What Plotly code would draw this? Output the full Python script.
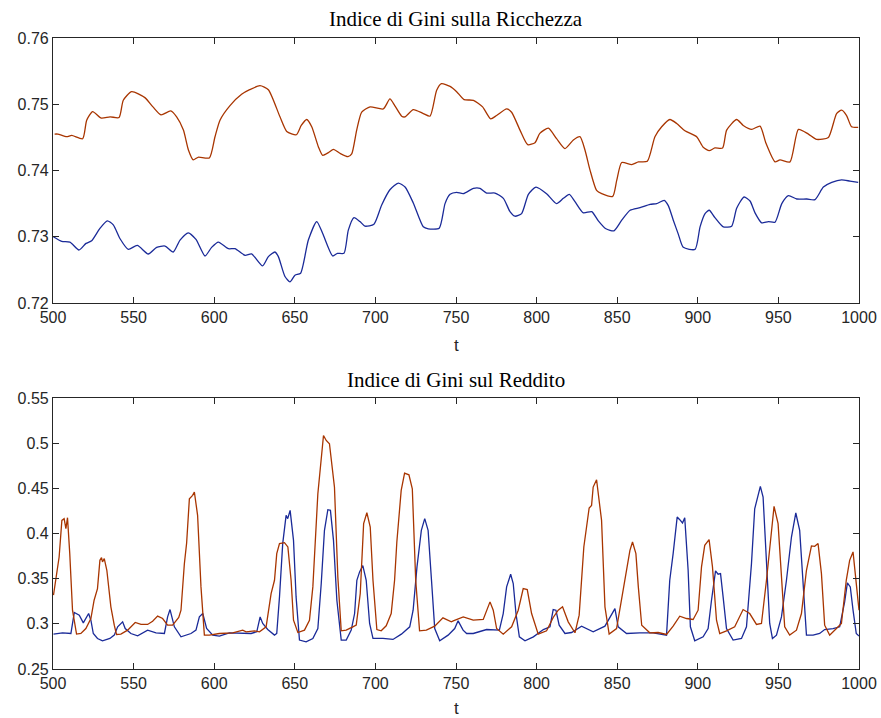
import plotly.graph_objects as go
from plotly.subplots import make_subplots

# ---------------- Wealth Gini (top) ----------------
w_orange_t = [501, 503, 508.5, 511.6, 518.4, 520.9, 524.6, 530, 535.4, 541, 543.6, 548.8, 557, 562, 567, 573,
              576.7, 580.9, 584, 587, 590, 597, 600.5, 603.6, 609.8, 617, 622, 628.4, 633.6, 640.8, 645, 651,
              654, 657.4, 660.5, 664.6, 667.3, 670.8, 674, 678, 683, 685.3, 688.4, 691.5, 696.7, 704.9, 709,
              712, 716.3, 718.4, 723.5, 729.7, 733.9, 738, 741, 746.3, 750.4, 755, 760.8, 766.5, 771.5, 775.2,
              781.4, 784.5, 789.7, 794.5, 799, 802, 807.3, 812.4, 817.6, 822.8, 826.9, 830, 833.1, 837.2,
              840.4, 847.2, 849.7, 852.8, 859, 863.1, 868.7, 873.4, 877.6, 882.7, 886.9, 892, 899.3, 903.4,
              907.1, 910.6, 915.4, 917.9, 924.1, 928.2, 933.4, 938.6, 942.3, 947.9, 951, 957.2, 962.4, 968.6,
              973.7, 981, 986.1, 989.2, 992.3, 995.4, 999.5]
w_orange = [0.7455, 0.7455, 0.7451, 0.7453, 0.7448, 0.7476, 0.7489, 0.7479, 0.7481, 0.7480, 0.7506, 0.7519,
            0.7510, 0.7496, 0.7484, 0.7490, 0.7481, 0.7461, 0.7431, 0.7416, 0.7420, 0.7419, 0.7451, 0.7476,
            0.7498, 0.7515, 0.7522, 0.7528, 0.7522, 0.7481, 0.7459, 0.7454, 0.7468, 0.7477, 0.7466, 0.7436,
            0.7423, 0.7427, 0.7432, 0.7426, 0.7421, 0.7425, 0.7461, 0.7488, 0.7496, 0.7493, 0.7508, 0.7498,
            0.7482, 0.7481, 0.7492, 0.7486, 0.7482, 0.7521, 0.7531, 0.7527, 0.7519, 0.7507, 0.7506, 0.7496,
            0.7478, 0.7483, 0.7493, 0.7488, 0.7461, 0.7439, 0.7442, 0.7456, 0.7464, 0.7448, 0.7433, 0.7446,
            0.7451, 0.7431, 0.7401, 0.7370, 0.7365, 0.7361, 0.7385, 0.7412, 0.7409, 0.7413, 0.7414, 0.7451,
            0.7466, 0.7477, 0.7471, 0.7460, 0.7451, 0.7435, 0.7430, 0.7434, 0.7434, 0.7461, 0.7477, 0.7468,
            0.7462, 0.7467, 0.7441, 0.7413, 0.7416, 0.7413, 0.7462, 0.7455, 0.7447, 0.7450, 0.7486, 0.7491,
            0.7483, 0.7466, 0.7465]

w_blue_t = [500.2, 505.4, 510.5, 516.1, 520.5, 524, 529.2, 533.7, 537.4, 541.6, 546.7, 552.3, 559.1, 564.3,
            569.5, 574.6, 578.8, 583.9, 588.7, 594.3, 598.4, 602.6, 608.8, 612.9, 619.1, 623.2, 630, 633.6,
            637.7, 639.8, 643.9, 647, 650.1, 653.6, 658.4, 663.6, 667.3, 673.5, 676.4, 680.5, 683.2, 686.7,
            690.4, 693.5, 699.1, 703.9, 709, 714.2, 718.4, 723.5, 729.7, 732.8, 739.6, 743.2, 746.3, 750.4,
            754.5, 760.8, 764.9, 769, 774.2, 779.4, 783.5, 786.6, 790.7, 794.9, 799.6, 806.2, 812.4, 816.6,
            820.3, 823.8, 829, 834.2, 838.3, 843, 848, 852.8, 858, 864.2, 870.4, 874.5, 879.2, 881.7, 884.8,
            887.9, 891, 898.3, 901.4, 904.5, 907.1, 910.6, 915.8, 921, 924.1, 928.7, 932.4, 935.5, 939.6,
            943.8, 947.9, 952.1, 956.2, 961.4, 967.6, 972.7, 977.9, 983.1, 989.2, 994.4, 999.5]
w_blue = [0.7300, 0.7293, 0.7292, 0.7280, 0.7290, 0.7294, 0.7313, 0.7324, 0.7318, 0.7297, 0.7281, 0.7287,
          0.7274, 0.7284, 0.7286, 0.7277, 0.7295, 0.7306, 0.7296, 0.7271, 0.7284, 0.7292, 0.7282, 0.7282,
          0.7272, 0.7274, 0.7256, 0.7270, 0.7277, 0.7270, 0.7240, 0.7232, 0.7242, 0.7245, 0.7295, 0.7323,
          0.7305, 0.7271, 0.7275, 0.7275, 0.7310, 0.7329, 0.7323, 0.7316, 0.7319, 0.7348, 0.7371, 0.7381,
          0.7375, 0.7351, 0.7315, 0.7312, 0.7313, 0.7350, 0.7364, 0.7367, 0.7365, 0.7373, 0.7373, 0.7366,
          0.7366, 0.7358, 0.7338, 0.7331, 0.7335, 0.7364, 0.7375, 0.7365, 0.7350, 0.7358, 0.7364, 0.7353,
          0.7336, 0.7338, 0.7324, 0.7312, 0.7309, 0.7325, 0.7340, 0.7344, 0.7349, 0.7350, 0.7355, 0.7347,
          0.7325, 0.7304, 0.7284, 0.7281, 0.7315, 0.7335, 0.7340, 0.7329, 0.7315, 0.7316, 0.7343, 0.7360,
          0.7354, 0.7336, 0.7321, 0.7323, 0.7322, 0.7350, 0.7362, 0.7357, 0.7357, 0.7356, 0.7375, 0.7382,
          0.7386, 0.7384, 0.7382]

# ---------------- Income Gini (bottom) ----------------
i_orange_t = [500.3, 501.8, 503.8, 505.5, 506.9, 508, 509, 510.4, 512.1, 514.6, 517.3, 520.4, 523.5, 525.5,
              527.6, 529.1, 530.1, 530.7, 531.8, 533.4, 535.9, 538, 539.4, 542.1, 546.3, 551, 554.6, 558.7,
              561.8, 564.9, 568, 571.1, 574.2, 578, 579.4, 581.5, 582.9, 584.6, 586.6, 587.7, 589.7, 591.8,
              593.9, 597, 603.2, 611.5, 617.7, 619.8, 625, 628.1, 632.2, 635.3, 637.4, 638.8, 640.5, 643.6,
              645.7, 647.7, 649.2, 651.9, 656, 659.1, 661.2, 664.3, 666.4, 667.8, 669.5, 671.5, 674.6, 676.7,
              678.8, 681.9, 686, 688.1, 690.6, 692.7, 694.7, 696.8, 698.5, 700.9, 703.6, 706.7, 709.8, 711.9,
              713.3, 716, 718.1, 720.8, 722.9, 725, 727.4, 731.6, 736.8, 741.9, 747.1, 748.3, 754.5, 760.7,
              766.9, 769, 771.1, 773.1, 775.2, 779.3, 784.5, 788.6, 791.7, 794.2, 796.9, 801, 806.2, 810.3,
              813.4, 816.1, 819.6, 823.8, 826.4, 829.3, 832.6, 834.1, 835.1, 837.2, 840.3, 842.4, 845, 849.6,
              852.3, 854.8, 857.9, 859.5, 861.6, 863.1, 865.2, 870.2, 875.4, 880.6, 884.7, 888.8, 893, 897.1,
              900.2, 902.3, 904.3, 907, 909.1, 911.6, 913.6, 917.8, 922.9, 928.1, 932.2, 936.4, 939.5, 942.6,
              945.7, 947.3, 949.8, 951.9, 953.9, 957, 961.2, 964.3, 967.4, 970.5, 972.5, 974.6, 976.7, 978.7,
              981.8, 986, 989.1, 992.1, 994.2, 996.3, 998.3, 1000]
i_orange = [0.3317, 0.3519, 0.3740, 0.4145, 0.4164, 0.4053, 0.4175, 0.3777, 0.3151, 0.2886, 0.2893, 0.2948,
            0.3059, 0.3261, 0.3390, 0.3703, 0.3733, 0.3685, 0.3722, 0.3593, 0.3188, 0.2985, 0.2882, 0.2886,
            0.2930, 0.3015, 0.2993, 0.2993, 0.3029, 0.3085, 0.3059, 0.2985, 0.2985, 0.3070, 0.3151, 0.3667,
            0.3895, 0.4385, 0.4422, 0.4459, 0.4201, 0.3409, 0.2875, 0.2875, 0.2893, 0.2900, 0.2930, 0.2912,
            0.2923, 0.2912, 0.2967, 0.3335, 0.3482, 0.3777, 0.3888, 0.3899, 0.3851, 0.3482, 0.3040, 0.2904,
            0.2930, 0.3040, 0.3409, 0.4440, 0.4827, 0.5085, 0.5030, 0.4993, 0.4514, 0.3519, 0.2923, 0.2930,
            0.2967, 0.2985, 0.3335, 0.4109, 0.4230, 0.4072, 0.3482, 0.2937, 0.2923, 0.2978, 0.3114, 0.3482,
            0.3906, 0.4477, 0.4669, 0.4650, 0.4495, 0.3482, 0.2923, 0.2930, 0.2974, 0.3066, 0.3022, 0.3033,
            0.3077, 0.3040, 0.3048, 0.3151, 0.3243, 0.3151, 0.2948, 0.2886, 0.2967, 0.3151, 0.3390, 0.3379,
            0.3114, 0.2886, 0.2923, 0.3070, 0.3151, 0.3188, 0.3022, 0.2901, 0.3096, 0.3851, 0.4282, 0.4311,
            0.4514, 0.4595, 0.4145, 0.3188, 0.2886, 0.2948, 0.3225, 0.3519, 0.3814, 0.3906, 0.3777, 0.3409,
            0.2985, 0.2901, 0.2904, 0.2882, 0.2974, 0.3085, 0.3059, 0.3048, 0.3151, 0.3630, 0.3869, 0.3932,
            0.3630, 0.3040, 0.2893, 0.2923, 0.2967, 0.3158, 0.3114, 0.2993, 0.3004, 0.3482, 0.4072, 0.4300,
            0.4109, 0.3482, 0.2967, 0.2875, 0.2930, 0.3114, 0.3593, 0.3862, 0.3858, 0.3888, 0.3556, 0.2985,
            0.2875, 0.2948, 0.3004, 0.3482, 0.3703, 0.3796, 0.3482, 0.3151]

i_blue_t = [500.3, 505.9, 511.1, 513.2, 516.3, 518.8, 522.1, 523.5, 525, 527.6, 530.7, 535.3, 538, 540.1,
            543.2, 544.8, 548.3, 552.5, 558.7, 563.9, 569.1, 571.1, 572.6, 575.3, 579.4, 585.6, 588.7, 590.8,
            592.9, 595.3, 599.1, 603.2, 609.4, 615.6, 622.9, 626.4, 628.5, 630.1, 633.2, 637.4, 638.8, 640.5,
            642.5, 644.6, 645.6, 647.1, 649.2, 650.8, 652.9, 657, 661.2, 664.3, 666.4, 668.4, 670.5, 672.1,
            674, 676.1, 678.8, 681.9, 685, 687.1, 688.5, 690.2, 692.2, 694.3, 696.4, 698.5, 704.7, 710.9,
            716.1, 721.3, 723.4, 725.8, 728.5, 730.6, 732.7, 734.8, 736.8, 739.9, 745.1, 749.2, 751.3, 754.4,
            756.6, 760.7, 769, 776.9, 779.3, 781.4, 783.9, 785.5, 787.2, 789.3, 792.8, 798, 804.2, 808.3,
            810.3, 812, 814, 817.6, 821.7, 827.9, 835.1, 842.4, 846.5, 848.6, 850.6, 855.8, 864, 872.3, 880.6,
            882.6, 884.7, 887.2, 888.8, 890.5, 891.9, 894, 895.4, 898.1, 903.3, 906.4, 908.5, 911, 912.6,
            914.1, 915.7, 917.8, 921.9, 927.1, 930.2, 933.3, 935.3, 937.4, 938.8, 940.5, 942.6, 944.6, 946.3,
            948.8, 951.9, 955, 958.1, 960.8, 963.2, 965.3, 967.4, 971.5, 975.6, 978.7, 983.9, 988, 991.1,
            992.8, 994.6, 996.3, 998.3, 1000]
i_blue = [0.2886, 0.2900, 0.2893, 0.3125, 0.3096, 0.3011, 0.3114, 0.3040, 0.2893, 0.2838, 0.2812, 0.2838,
          0.2875, 0.2967, 0.3022, 0.2948, 0.2893, 0.2867, 0.2930, 0.2900, 0.2893, 0.3077, 0.3158, 0.2967,
          0.2856, 0.2893, 0.2930, 0.3077, 0.3114, 0.2948, 0.2875, 0.2864, 0.2900, 0.2893, 0.2893, 0.2912,
          0.3077, 0.3004, 0.2937, 0.2875, 0.2893, 0.3298, 0.3888, 0.4201, 0.4164, 0.4256, 0.3924, 0.3298,
          0.2820, 0.2801, 0.2838, 0.2948, 0.3446, 0.4035, 0.4263, 0.4256, 0.3924, 0.3261, 0.2820, 0.2820,
          0.2930, 0.3114, 0.3482, 0.3575, 0.3645, 0.3482, 0.3004, 0.2838, 0.2838, 0.2827, 0.2886, 0.2967,
          0.3151, 0.3630, 0.4035, 0.4164, 0.4035, 0.3482, 0.2948, 0.2812, 0.2875, 0.2948, 0.3033, 0.2930,
          0.2893, 0.2893, 0.2937, 0.2930, 0.3114, 0.3409, 0.3549, 0.3446, 0.3114, 0.2856, 0.2812, 0.2856,
          0.2937, 0.2967, 0.3158, 0.3151, 0.2985, 0.2893, 0.2904, 0.2974, 0.2912, 0.2974, 0.3114, 0.3169,
          0.2967, 0.2893, 0.2900, 0.2900, 0.2875, 0.3482, 0.3777, 0.4182, 0.4153, 0.4116, 0.4175, 0.3593,
          0.2967, 0.2812, 0.2856, 0.2948, 0.3261, 0.3586, 0.3549, 0.3556, 0.3298, 0.2948, 0.2820, 0.2838,
          0.2967, 0.3667, 0.4274, 0.4422, 0.4521, 0.4403, 0.3630, 0.3004, 0.2838, 0.2875, 0.3077, 0.3482,
          0.3961, 0.4227, 0.4035, 0.3482, 0.2875, 0.2875, 0.2893, 0.2937, 0.2948, 0.2967, 0.3243, 0.3453,
          0.3409, 0.3151, 0.2893, 0.2864]

titles = ["Indice di Gini sulla Ricchezza", "Indice di Gini sul Reddito"]
x_ticks = list(range(500, 1001, 50))
y_ticks_top = [0.72, 0.73, 0.74, 0.75, 0.76]
y_ticks_bot = [0.25, 0.3, 0.35, 0.4, 0.45, 0.5, 0.55]
y_tick_text_bot = ["0.25", "0.3", "0.35", "0.4", "0.45", "0.5", "0.55"]

BLUE = "#1a2a98"
ORANGE = "#a83500"
AXC = "#262626"

fig = make_subplots(rows=2, cols=1)
fig.add_trace(go.Scatter(x=w_blue_t, y=w_blue, mode="lines",
                         line=dict(color=BLUE, width=1.3, shape="spline", smoothing=0.6)), row=1, col=1)
fig.add_trace(go.Scatter(x=w_orange_t, y=w_orange, mode="lines",
                         line=dict(color=ORANGE, width=1.3, shape="spline", smoothing=0.6)), row=1, col=1)
fig.add_trace(go.Scatter(x=i_blue_t, y=i_blue, mode="lines", line=dict(color=BLUE, width=1.3)), row=2, col=1)
fig.add_trace(go.Scatter(x=i_orange_t, y=i_orange, mode="lines", line=dict(color=ORANGE, width=1.3)), row=2, col=1)

axis_common = dict(showline=True, linecolor=AXC, linewidth=1.2, mirror="ticks", ticks="inside",
                   ticklen=6, tickwidth=1.2, tickcolor=AXC, showgrid=False, zeroline=False,
                   automargin=False,
                   tickfont=dict(family="Liberation Sans, Arial, sans-serif", size=16, color=AXC))

fig.update_xaxes(range=[500, 1000], tickvals=x_ticks, **axis_common)
fig.update_yaxes(**axis_common)
fig.update_yaxes(range=[0.72, 0.76], tickvals=y_ticks_top, ticktext=[f"{v:.2f}" for v in y_ticks_top], row=1, col=1)
fig.update_yaxes(range=[0.25, 0.55], tickvals=y_ticks_bot, ticktext=y_tick_text_bot, row=2, col=1)

fig.update_layout(
    width=881, height=718, showlegend=False,
    plot_bgcolor="white", paper_bgcolor="white",
    margin=dict(l=53, r=22, t=38, b=49, autoexpand=False),
    xaxis=dict(domain=[0, 1]), xaxis2=dict(domain=[0, 1]),
    yaxis=dict(domain=[0.580, 1.0]), yaxis2=dict(domain=[0.0, 0.4295]),
)

serif = dict(family="Liberation Serif, Times New Roman, serif", size=21, color="black")
sans = dict(family="Liberation Sans, Arial, sans-serif", size=17, color=AXC)
fig.add_annotation(text=titles[0], xref="paper", yref="paper", x=0.5, y=1.0, yshift=5,
                   xanchor="center", yanchor="bottom", showarrow=False, font=serif)
fig.add_annotation(text=titles[1], xref="paper", yref="paper", x=0.5, y=0.4295, yshift=4,
                   xanchor="center", yanchor="bottom", showarrow=False, font=serif)
fig.add_annotation(text="t", xref="paper", yref="paper", x=0.5, y=0.580, yshift=-42,
                   xanchor="center", yanchor="middle", showarrow=False, font=sans)
fig.add_annotation(text="t", xref="paper", yref="paper", x=0.5, y=0.0, yshift=-39,
                   xanchor="center", yanchor="middle", showarrow=False, font=sans)

fig.write_html("out.html")
